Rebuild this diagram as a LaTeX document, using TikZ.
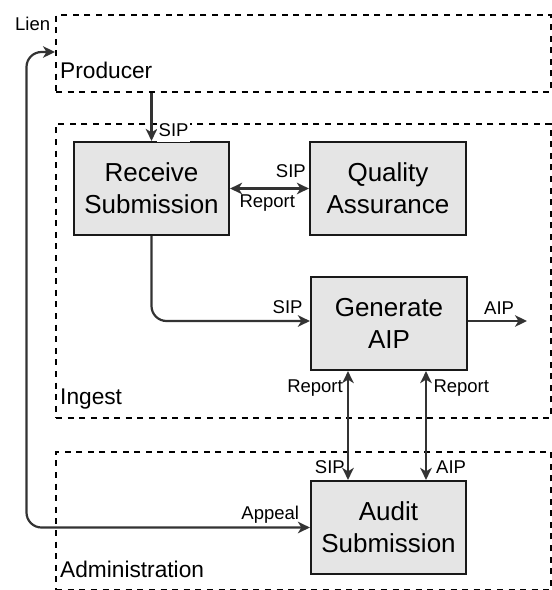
\documentclass[tikz,border=0pt]{standalone}
\usepackage{fontspec}
\setmainfont{Liberation Sans}
\usetikzlibrary{arrows.meta}
\begin{document}
\begin{tikzpicture}[x=1pt,y=-1pt,
  region/.style={draw=black, line width=2.2pt, dash pattern=on 6pt off 5.6pt, inner sep=0pt, anchor=north west},
  proc/.style={draw=black!90, line width=2.2pt, fill=black!10, minimum width=155pt, minimum height=93pt, align=center, inner sep=0pt, font=\fontsize{26}{31.7}\selectfont},
  tip/.tip={Stealth[length=12pt,width=11.5pt,inset=3.5pt]},
  flow/.style={draw=black!80, line width=2.2pt, -tip},
  bflow/.style={draw=black!80, line width=2.2pt, tip-tip},
  lbl/.style={font=\fontsize{18.5}{20}\selectfont, inner sep=0pt},
  sec/.style={font=\fontsize{22.7}{25}\selectfont, inner sep=0pt, anchor=base west},
]
\useasboundingbox (0,0) rectangle (552,590);

% regions
\node[region, minimum width=495pt, minimum height=76.7pt] (producer) at (55,14) {};
\node[region, minimum width=495pt, minimum height=294pt] (ingest) at (55,122.7) {};
\node[region, minimum width=495pt, minimum height=138pt] (admin) at (55,450.5) {};

\node[sec] (lproducer) at (60,78.3) {Producer};
\node[sec] (lingest) at (60,404.5) {Ingest};
\node[sec] (ladmin) at (60,577.3) {Administration};
\node[lbl, anchor=base west] (llien) at (15,30.7) {Lien};

% processes
\node[proc] (rs) at (151.5,188.5) {Receive\\Submission};
\node[proc, minimum width=156pt] (qa) at (388,188.5) {Quality\\Assurance};
\node[proc, minimum width=156pt] (ga) at (389,323.5) {Generate\\AIP};
\node[proc] (as) at (388.5,527.5) {Audit\\Submission};

% connectors
\draw[flow] (rs.north |- producer.south) -- (rs.north);
\node[lbl, anchor=base west, fill=white, inner xsep=1.5pt, text height=14pt, text depth=5.5pt] (lsip0) at (157,136) {SIP};

\draw[bflow] (rs.east) -- (qa.west);
\node[lbl, anchor=base east] (lsip1) at (306,177) {SIP};
\node[lbl, anchor=base west] (lrep1) at (239.3,207) {Report};

\draw[flow, rounded corners=15pt] (rs.south) |- ([yshift=2.5pt]ga.west);
\node[lbl, anchor=base east] (lsip2) at (302.7,313.3) {SIP};

\coordinate (aipout) at (527,321);
\draw[flow] (ga.east |- aipout) -- (aipout);
\node[lbl, anchor=base west] (laip1) at (484,314) {AIP};

\draw[bflow] ([xshift=-41pt]ga.south) -- ([xshift=-41pt]ga.south |- as.north);
\node[lbl, anchor=base east] (lrep2) at (343,392) {Report};
\node[lbl, anchor=base east] (lsip3) at (345,473.3) {SIP};

\draw[bflow] ([xshift=37pt]ga.south) -- ([xshift=37pt]ga.south |- as.north);
\node[lbl, anchor=base west] (lrep3) at (433.3,392) {Report};
\node[lbl, anchor=base west] (laip2) at (436,473) {AIP};

\coordinate (lienturn) at (26.5,52);
\draw[bflow, rounded corners=15pt] (as.west) -| (lienturn) -- (producer.west |- lienturn);
\node[lbl, anchor=base east] (lappeal) at (299.3,519) {Appeal};
\end{tikzpicture}
\end{document}
